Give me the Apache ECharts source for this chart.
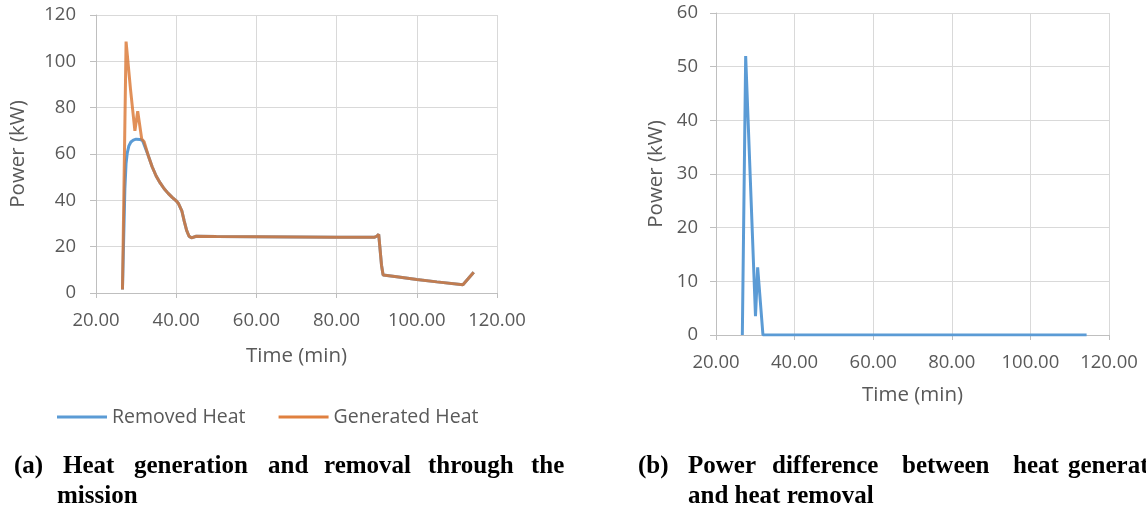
<!DOCTYPE html>
<html><head><meta charset="utf-8">
<script src="https://cdn.jsdelivr.net/npm/echarts@6/dist/echarts.min.js"></script>
<style>html,body{margin:0;padding:0;background:#fff}#c{width:1146px;height:512px}</style>
</head><body><div id="c"></div>
<script>
// ---- data ----
const seriesNames = ['Removed Heat', 'Generated Heat'];
const removedTime  = [26.6, 27.2, 27.5, 27.8, 28.2, 28.7, 29.3, 30.0, 31.0, 31.6, 32.0, 33.0, 34.0, 35.0, 36.0, 37.0, 38.0, 39.0, 40.0, 40.6, 41.4, 42.0, 42.6, 43.2, 43.8, 45.0, 50.0, 60.0, 70.0, 80.0, 89.5, 90.0, 90.5, 90.9, 91.2, 91.6, 95.0, 100.0, 105.0, 111.5, 114.2];
const removedPower = [1.5, 45.0, 56.0, 60.5, 63.5, 65.2, 66.0, 66.4, 66.3, 65.8, 65.3, 59.5, 54.5, 50.5, 47.5, 45.0, 43.0, 41.3, 39.8, 38.5, 35.5, 31.0, 27.0, 24.5, 23.8, 24.5, 24.4, 24.3, 24.2, 24.1, 24.1, 24.5, 25.3, 24.8, 12.0, 7.8, 7.0, 5.8, 4.8, 3.6, 9.0];
const generatedTime  = [26.6, 27.5, 28.6, 29.7, 30.4, 31.4, 32.0, 33.0, 34.0, 35.0, 36.0, 37.0, 38.0, 39.0, 40.0, 40.6, 41.4, 42.0, 42.6, 43.2, 43.8, 45.0, 50.0, 60.0, 70.0, 80.0, 89.5, 90.0, 90.5, 90.9, 91.2, 91.6, 95.0, 100.0, 105.0, 111.5, 114.2];
const generatedPower = [1.5, 108.5, 88.0, 70.0, 78.5, 66.5, 65.3, 59.5, 54.5, 50.5, 47.5, 45.0, 43.0, 41.3, 39.8, 38.5, 35.5, 31.0, 27.0, 24.5, 23.8, 24.5, 24.4, 24.3, 24.2, 24.1, 24.1, 24.5, 25.3, 24.8, 12.0, 7.8, 7.0, 5.8, 4.8, 3.6, 9.0];
const diffTime  = [26.7, 27.55, 30.05, 30.6, 31.95, 114.3];
const diffPower = [0, 52.0, 3.5, 12.6, 0, 0];
const timeTicks = [20, 40, 60, 80, 100, 120];
const leftPowerTicks = [0, 20, 40, 60, 80, 100, 120];
const rightPowerTicks = [0, 10, 20, 30, 40, 50, 60];
const axisTitles = { time: 'Time (min)', power: 'Power (kW)' };
const captionA = [['(a)', 'Heat', 'generation', 'and', 'removal', 'through', 'the'], ['mission']];
const captionB = [['(b)', 'Power', 'difference', 'between', 'heat', 'generation'], ['and heat removal']];

// ---- layout ----
const zip = (a, b) => a.map((v, i) => [v, b[i]]);
const FONT = '"Open Sans", "Liberation Sans", sans-serif';
const GRAY = '#595959';
const capAx = [[14, 63, 134, 268, 324, 428, 531], [57]];
const capBx = [[638, 688, 772, 902, 1013, 1068], [688]];
const capY = [467, 497];

function mkX(grid, gap) {
  return {
    type: 'value', gridIndex: grid, min: timeTicks[0], max: timeTicks[timeTicks.length - 1],
    interval: timeTicks[1] - timeTicks[0],
    name: axisTitles.time, nameLocation: 'middle', nameGap: gap,
    nameTextStyle: { color: GRAY, fontSize: 20.5, fontFamily: FONT },
    axisLine: { show: true, lineStyle: { color: '#BFBFBF', width: 1 } },
    axisTick: { show: true, length: 5, lineStyle: { color: '#BFBFBF' } },
    axisLabel: { color: GRAY, fontSize: 18.5, fontFamily: FONT, margin: 18, formatter: v => v.toFixed(2) },
    splitLine: { show: true, lineStyle: { color: '#D9D9D9', width: 1 } }
  };
}
function mkY(grid, ticks, gap, margin) {
  return {
    type: 'value', gridIndex: grid, min: ticks[0], max: ticks[ticks.length - 1], interval: ticks[1] - ticks[0],
    name: axisTitles.power, nameLocation: 'middle', nameGap: gap,
    nameTextStyle: { color: GRAY, fontSize: 20.5, fontFamily: FONT },
    axisLine: { show: true, lineStyle: { color: '#BFBFBF', width: 1 } },
    axisTick: { show: true, length: 6, lineStyle: { color: '#BFBFBF' } },
    axisLabel: { color: GRAY, fontSize: 18.5, fontFamily: FONT, margin: margin },
    splitLine: { show: true, lineStyle: { color: '#D9D9D9', width: 1 } }
  };
}
const graphics = [];
function addCaption(words, xs) {
  words.forEach((line, li) => line.forEach((w, wi) => graphics.push({
    type: 'text', x: xs[li][wi], y: capY[li],
    style: { text: w, fill: '#000', font: 'bold 25px "Liberation Serif", "Times New Roman", serif', verticalAlign: 'middle' }
  })));
}
addCaption(captionA, capAx);
addCaption(captionB, capBx);

const chart = echarts.init(document.getElementById('c'), null, { renderer: 'canvas' });
chart.setOption({
  animation: false,
  backgroundColor: '#fff',
  grid: [
    { left: 96, top: 15, width: 401, height: 278 },
    { left: 716, top: 13, width: 393, height: 322 }
  ],
  xAxis: [mkX(0, 53), mkX(1, 50)],
  yAxis: [mkY(0, leftPowerTicks, 67, 20), mkY(1, rightPowerTicks, 49, 18)],
  legend: {
    data: seriesNames, left: 57, top: 407, padding: 0, icon: 'rect', itemWidth: 50, itemHeight: 3, itemGap: 33,
    textStyle: { color: GRAY, fontSize: 19.5, fontFamily: FONT }
  },
  graphic: graphics,
  series: [
    { name: seriesNames[0], type: 'line', xAxisIndex: 0, yAxisIndex: 0, data: zip(removedTime, removedPower),
      showSymbol: false, symbol: 'none', lineStyle: { color: '#5B9BD5', width: 3 }, itemStyle: { color: '#5B9BD5' } },
    { name: seriesNames[1], type: 'line', xAxisIndex: 0, yAxisIndex: 0, data: zip(generatedTime, generatedPower),
      showSymbol: false, symbol: 'none', lineStyle: { color: '#D9742F', width: 3, opacity: 0.8 }, itemStyle: { color: '#E0803F' } },
    { name: 'Difference', type: 'line', xAxisIndex: 1, yAxisIndex: 1, data: zip(diffTime, diffPower),
      showSymbol: false, symbol: 'none', lineStyle: { color: '#5B9BD5', width: 3 }, itemStyle: { color: '#5B9BD5' } }
  ]
});
</script></body></html>
